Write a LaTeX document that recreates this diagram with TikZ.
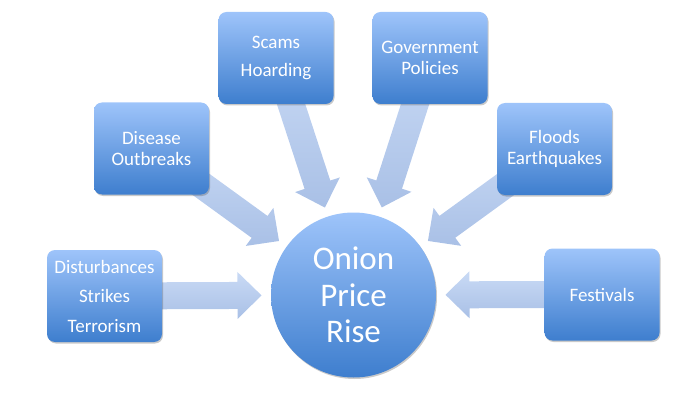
\documentclass[tikz,border=0pt]{standalone}
\usepackage{fontspec}
\setmainfont{Carlito}
\usetikzlibrary{calc,shadows}
\pgfdeclarelayer{bg}
\pgfsetlayers{bg,main}
\definecolor{boxtop}{HTML}{9EC4FA}
\definecolor{boxbot}{HTML}{3E7ECE}
\definecolor{arrtop}{HTML}{C9DAF5}
\definecolor{arrbot}{HTML}{A9C0E6}
\tikzset{
  cause/.style={rounded corners=8pt, minimum width=115pt, minimum height=92pt,
    top color=boxtop, bottom color=boxbot, text=white, align=center, inner sep=0pt,
    drop shadow={shadow xshift=1pt, shadow yshift=-1.5pt, opacity=0.3, fill=black!70}},
  effect/.style={circle, minimum size=165pt, inner sep=0pt,
    top color=boxtop, bottom color=boxbot, text=white, align=center,
    font=\fontsize{33}{36.5}\selectfont,
    drop shadow={shadow xshift=1pt, shadow yshift=-1.5pt, opacity=0.3, fill=black!70}},
  arrowfill/.style={top color=arrtop, bottom color=arrbot, draw=none},
}
\newcommand\blockarrow[2]{%
  \coordinate (T) at (#1.center);
  \coordinate (H) at ($(#2.center)!92pt!(#1.center)$);
  \coordinate (B) at ($(H)!24pt!(T)$);
  \path[arrowfill] ($(T)!13.5pt!90:(H)$) -- ($(B)!13.5pt!90:(H)$) -- ($(B)!23.5pt!90:(H)$)
    -- (H) -- ($(B)!23.5pt!-90:(H)$) -- ($(B)!13.5pt!-90:(H)$) -- ($(T)!13.5pt!-90:(H)$) -- cycle;
}
\begin{document}
\begin{tikzpicture}[x=1pt,y=-1pt]
\useasboundingbox (0,0) rectangle (691,409);
\node[effect] (c) at (353.5,295) {Onion\\Price\\Rise};
\node[cause, font=\fontsize{19}{29.5}\selectfont] (dist) at (104.5,296) {Disturbances\\Strikes\\Terrorism};
\node[cause, font=\fontsize{19}{21.5}\selectfont] (dis) at (151.5,148.5) {Disease\\Outbreaks};
\node[cause, font=\fontsize{19}{28}\selectfont] (scam) at (276,58) {Scams\\Hoarding};
\node[cause, font=\fontsize{19}{21.5}\selectfont] (gov) at (430,58) {Government\\Policies};
\node[cause, font=\fontsize{19}{21.5}\selectfont] (flood) at (554.5,149) {Floods\\Earthquakes};
\node[cause, font=\fontsize{19}{21.5}\selectfont] (fest) at (602,294.5) {Festivals};
\begin{pgfonlayer}{bg}
\blockarrow{dist}{c}
\blockarrow{dis}{c}
\blockarrow{scam}{c}
\blockarrow{gov}{c}
\blockarrow{flood}{c}
\blockarrow{fest}{c}
\end{pgfonlayer}
\end{tikzpicture}
\end{document}
